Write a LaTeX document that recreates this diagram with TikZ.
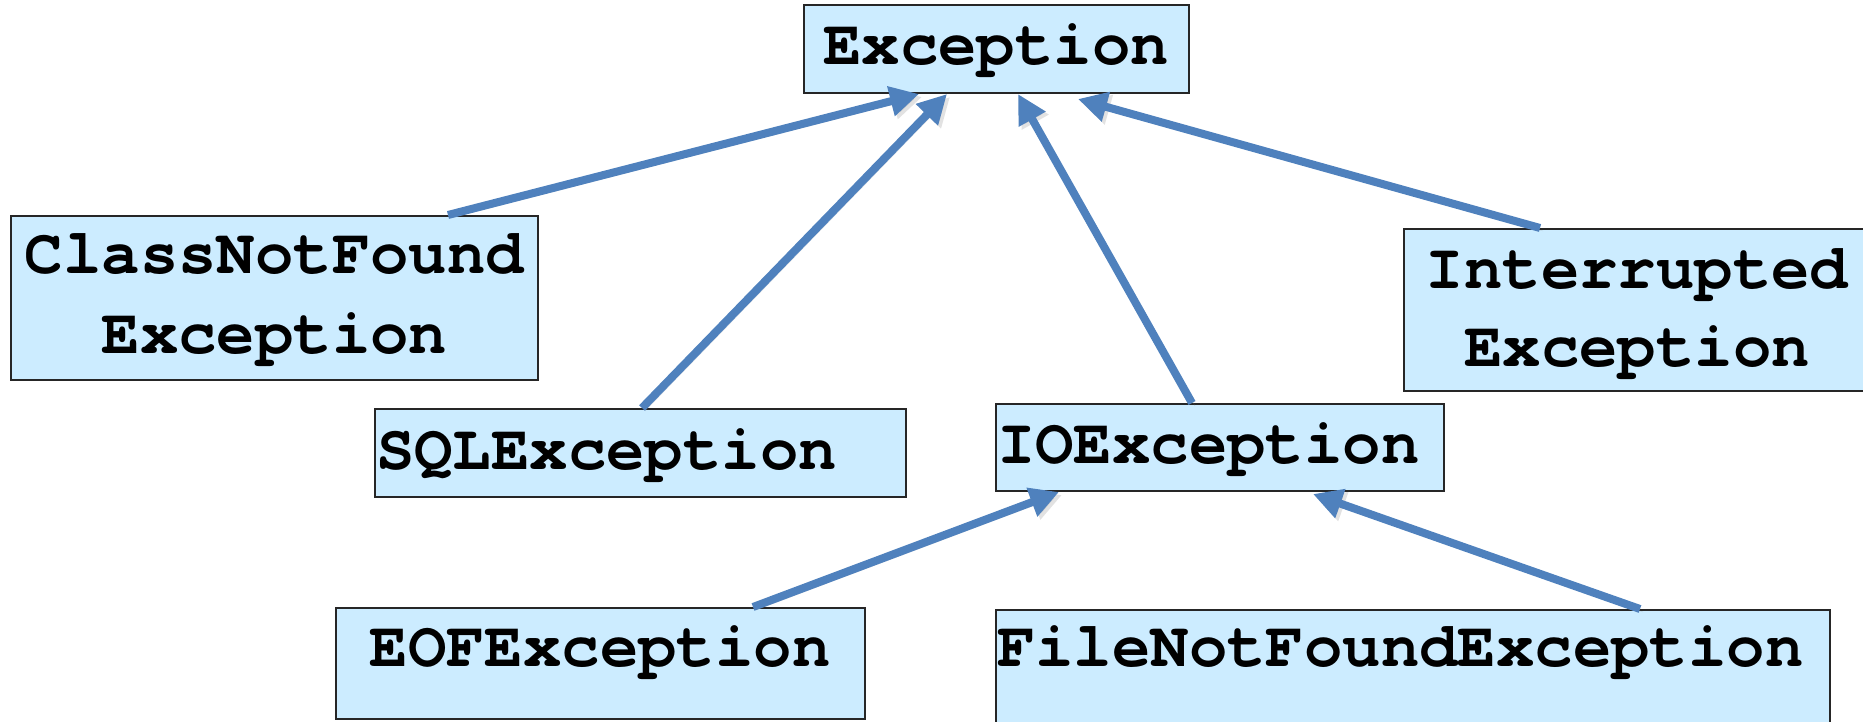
\documentclass[tikz,border=0pt]{standalone}
\usepackage{fontspec}
\setmonofont{TeX Gyre Cursor}
\usetikzlibrary{arrows.meta,calc}
\definecolor{boxfill}{RGB}{204,236,255}
\definecolor{linkblue}{RGB}{79,129,189}
\tikzset{
  cls/.style={rectangle, draw=black!85, line width=2pt, fill=boxfill,
    inner sep=0pt, font=\ttfamily\bfseries\fontsize{64}{78}\selectfont},
  oneline/.style={cls, text height=46pt, text depth=14pt},
  leftline/.style={oneline, inner xsep=1pt, align=left},
  twoline/.style={cls, align=center, text height=46pt},
  inherit/.style={draw=linkblue, line width=8pt,
    -{Triangle[length=29pt,width=29pt]},
    preaction={draw=black!45, opacity=0.25,
      transform canvas={shift={(3pt,-3pt)}}}}
}
\begin{document}
\begin{tikzpicture}[x=1pt,y=1pt]
  \useasboundingbox (0,0) rectangle (1863,721);

  % class boxes
  \node[oneline, minimum width=385pt, minimum height=88pt] (exc) at (996,672) {Exception};
  \node[twoline, text width=527pt, text depth=94pt, minimum height=164pt,
        font=\ttfamily\bfseries\fontsize{64}{80}\selectfont] (cnf) at (274.5,423) {ClassNotFound\\Exception};
  \node[leftline, text width=529pt, minimum height=88pt] (sql) at (640.5,268) {SQLException};
  \node[leftline, text width=446pt, minimum height=87pt] (io) at (1220,273.5) {IOException};
  \node[twoline, text width=466pt, text depth=88pt, minimum height=162pt] (intr) at (1637,411) {Interrupted\\Exception};
  \node[oneline, text depth=40pt, minimum width=529pt, minimum height=111pt] (eof) at (600,57.5) {EOFException};
  \node[leftline, text depth=52pt, text width=832pt, minimum height=119pt] (fnf) at (1413,51.5) {FileNotFoundException};

  % inheritance links
  \draw[inherit] ([xshift=173.5pt]cnf.north) -- ([xshift=-77pt]exc.south);
  \draw[inherit] ([xshift=1.5pt]sql.north) -- ([xshift=-49pt]exc.south);
  \draw[inherit] ([xshift=-28pt]io.north) -- ([xshift=22pt]exc.south);
  \draw[inherit] ([xshift=-97pt]intr.north) -- ([xshift=82pt,yshift=-5pt]exc.south);
  \draw[inherit] ([xshift=153pt]eof.north) -- ([xshift=-161pt]io.south);
  \draw[inherit] ([xshift=227pt]fnf.north) -- ([xshift=93pt,yshift=-2pt]io.south);
\end{tikzpicture}
\end{document}
